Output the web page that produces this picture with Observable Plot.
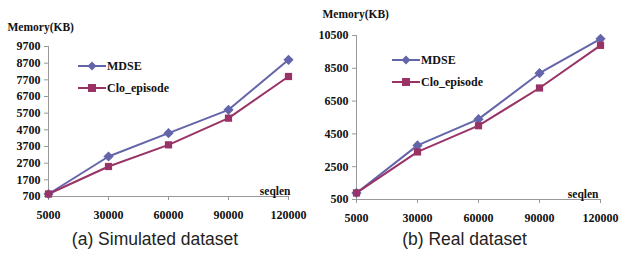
<!DOCTYPE html>
<html><head><meta charset="utf-8">
<script src="https://cdn.jsdelivr.net/npm/d3@7"></script>
<script src="https://cdn.jsdelivr.net/npm/@observablehq/plot@0.6"></script>
<style>
body{margin:0;background:#fff;width:619px;height:254px;overflow:hidden;font-family:"Liberation Serif",serif;}
#wrap{position:relative;width:619px;height:254px;}
.panel{position:absolute;top:0;height:254px;}
.panel svg text{font-family:"Liberation Serif",serif !important;font-weight:bold;}
.cap{position:absolute;top:229px;left:0;width:100%;text-align:center;font-family:"Liberation Sans",Arial,sans-serif;font-size:17.5px;color:#222;}
.leg{position:absolute;font-family:"Liberation Serif",serif;font-weight:bold;font-size:12px;color:#111;}
.leg div{height:22px;display:flex;align-items:center;}
.leg svg{margin-right:1px;}
</style></head><body>
<div id="wrap"></div>
<script>
const seqlen = ["5000","30000","60000","90000","120000"];
const simMDSE = [850, 3100, 4500, 5900, 8900];
const simClo = [850, 2500, 3800, 5400, 7900];
const realMDSE = [900, 3800, 5400, 8200, 10300];
const realClo = [900, 3400, 5000, 7300, 9900];
const simTicks = [700,1700,2700,3700,4700,5700,6700,7700,8700,9700];
const realTicks = [500,2500,4500,6500,8500,10500];
const series = ["MDSE","Clo_episode"];
const colors = ["#6464aa","#993366"];

function rows(a, b){
  const out = [];
  seqlen.forEach((s,i)=>{ out.push({x:s,y:a[i],s:"MDSE"}); });
  seqlen.forEach((s,i)=>{ out.push({x:s,y:b[i],s:"Clo_episode"}); });
  return out;
}

function chart(data, ticks, opt){
  const axisColor = "#999";
  return Plot.plot({
    width: opt.width, height: 228,
    marginLeft: opt.ml, marginRight: opt.mr, marginTop: opt.mt, marginBottom: opt.mb,
    style: {fontFamily:"'Liberation Serif', serif", fontSize:"12px", fontWeight:"bold", color:"#111", background:"transparent"},
    x: {type:"point", domain: seqlen, padding:0, label:null},
    y: {domain:[ticks[0], ticks[ticks.length-1]], label:null},
    color: {domain: series, range: colors},
    marks: [
      Plot.axisY({ticks: ticks, tickSize:4, tickPadding:4, tickFormat:d=>String(d), stroke: axisColor, fill:"#111", fontSize:12}),
      Plot.axisX({tickSize:4, tickPadding:10, stroke: axisColor, fill:"#111", fontSize:12}),
      Plot.frame({anchor:"left", stroke: axisColor}),
      Plot.frame({anchor:"bottom", stroke: axisColor}),
      Plot.line(data, {x:"x", y:"y", z:"s", stroke:"s", strokeWidth:2}),
      Plot.dot(data.filter(d=>d.s==="MDSE"), {x:"x", y:"y", symbol:"diamond2", r:4.6, fill:colors[0], stroke:"none"}),
      Plot.dot(data.filter(d=>d.s==="Clo_episode"), {x:"x", y:"y", symbol:"square2", r:4.6, fill:colors[1], stroke:"none"}),
      Plot.text(["Memory(KB)"], {frameAnchor:"top-left", dx: opt.tdx, dy: opt.tdy, textAnchor:"start", fontSize:11.5}),
      Plot.text(["seqlen"], {frameAnchor:"bottom-right", dx: opt.sdx, dy: opt.sdy, textAnchor:"end", fontSize:11.5})
    ]
  });
}

function legendHTML(){
  const sw0 = `<svg width="28" height="10"><line x1="0" y1="5" x2="28" y2="5" stroke="${colors[0]}" stroke-width="2"/><path d="M14,0.5 L18.5,5 L14,9.5 L9.5,5Z" fill="${colors[0]}"/></svg>`;
  const sw1 = `<svg width="28" height="10"><line x1="0" y1="5" x2="28" y2="5" stroke="${colors[1]}" stroke-width="2"/><rect x="10" y="1" width="8" height="8" fill="${colors[1]}"/></svg>`;
  return `<div>${sw0}MDSE</div><div>${sw1}Clo_episode</div>`;
}

const wrap = document.getElementById("wrap");
function panel(left, width, svg, cap, legLeft, legTop){
  const p = document.createElement("div");
  p.className = "panel"; p.style.left = left+"px"; p.style.width = width+"px";
  p.appendChild(svg);
  const c = document.createElement("div"); c.className="cap"; c.textContent = cap; p.appendChild(c);
  const l = document.createElement("div"); l.className="leg"; l.style.left = legLeft+"px"; l.style.top = legTop+"px"; l.innerHTML = legendHTML(); p.appendChild(l);
  wrap.appendChild(p);
}

panel(0, 310, chart(rows(simMDSE, simClo), simTicks, {width:310, ml:48, mr:22, mt:46, mb:32, tdx:-41, tdy:-24, sdx:2, sdy:-2}), "(a) Simulated dataset", 78, 55);
panel(310, 309, chart(rows(realMDSE, realClo), realTicks, {width:309, ml:46, mr:19, mt:35, mb:29, tdx:-34, tdy:-26, sdx:-2, sdy:-2}), "(b) Real dataset", 82, 49);
</script>
</body></html>
